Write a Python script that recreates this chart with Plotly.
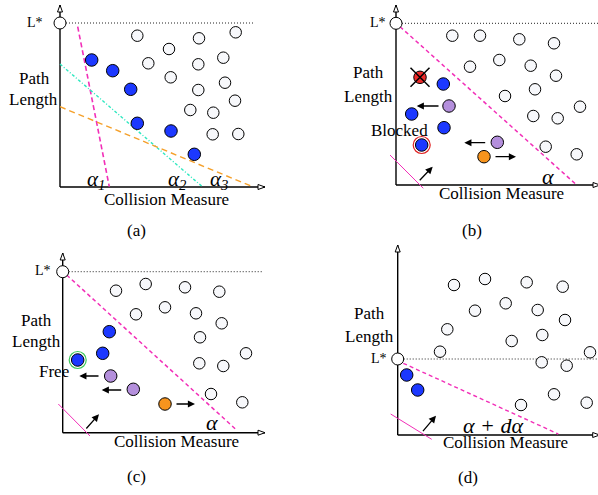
import plotly.graph_objects as go

W, H = 598, 495
FONT = "Liberation Serif"

# ---------------- data (local units: collision measure, path length) -------------
# panel (a)
a_lstar = 164
a_free_x = [77.3, 109, 139, 175.7, 88.3, 138.3, 163.3, 110.7, 138.3, 165, 130.3, 153.3, 175, 152.7, 178.3]
a_free_y = [151.3, 138, 148.7, 154.7, 123.7, 122.7, 129.3, 109.7, 97, 104.3, 77, 74.3, 86.3, 52.7, 53]
a_front_x = [31.7, 52.7, 70.7, 77.3, 111, 134.3]
a_front_y = [127, 116.3, 97.7, 63.7, 56, 32.7]
a_alpha_labels = ["α<sub>1</sub>", "α<sub>2</sub>", "α<sub>3</sub>"]

# panel (b)
b_lstar = 161.7
b_free_x = [56.3, 84, 123.3, 158, 74, 103.3, 134.7, 160, 109, 139, 184, 137.3, 161.7, 149.7, 180.7]
b_free_y = [149.3, 149.3, 145.7, 141.7, 118.3, 125, 119.3, 109.3, 89, 95.7, 78.3, 69, 66.7, 38.3, 30.7]
b_front_x = [47.3, 15.7, 48, 25.7]
b_front_y = [101, 71, 57.3, 40]
b_blocked_x = [25.7]
b_blocked_y = [40]
b_removed_x = [24]
b_removed_y = [107.7]
b_improve_x = [53, 101.3]
b_improve_y = [79, 42.7]
b_worse_x = [88]
b_worse_y = [28.3]

# panel (c)
c_lstar = 161
c_free_x = [53.3, 83, 122.3, 156.6, 73.3, 102.3, 133.3, 159, 137.3, 183.3, 136.6, 160.6, 148.3, 179.6]
c_free_y = [142, 148.7, 145.4, 141, 118.4, 125.4, 119.4, 109.4, 95.4, 79.4, 69.4, 66.7, 38.7, 30.4]
c_front_x = [46.6, 40, 15]
c_front_y = [101, 79.4, 72.7]
c_freed_x = [15]
c_freed_y = [72.7]
c_improve_x = [48, 70.6]
c_improve_y = [56.7, 43.4]
c_worse_x = [102.3]
c_worse_y = [28.7]

# panel (d)
d_lstar = 76
d_free_x = [56.3, 87.3, 129, 165, 77.3, 108, 140, 167.3, 49.6, 114, 144.6, 42.3, 192.3, 144, 169, 156.3, 189, 123.3]
d_free_y = [150, 156, 152.7, 148.3, 124.3, 131.7, 125, 115, 105.7, 94, 100, 83.3, 82.7, 72.7, 69.3, 40.7, 32.3, 30]
d_front_x = [9, 20]
d_front_y = [60, 45]

# ---------------- layout of panels (pixel boxes and origins) -----------------
panels = {
    "a": dict(box=(0, 299, 0, 240), origin=(60, 187), ytop=182, xend=205, dotend=193),
    "b": dict(box=(299, 598, 0, 240), origin=(396, 185), ytop=180, xend=204, dotend=203),
    "c": dict(box=(0, 299, 240, 495), origin=(62.7, 432.7), ytop=179.7, xend=202.3, dotend=200.3),
    "d": dict(box=(299, 598, 240, 495), origin=(397.7, 435), ytop=190, xend=202, dotend=201),
}

fig = go.Figure()
layout = dict(width=W, height=H, margin=dict(l=0, r=0, t=0, b=0), autosize=False,
              paper_bgcolor="white", plot_bgcolor="white", showlegend=False)
refs = {}
for i, (k, p) in enumerate(panels.items()):
    x0, x1, y0, y1 = p["box"]
    ox, oy = p["origin"]
    n = "" if i == 0 else str(i + 1)
    xa, ya = "xaxis" + n, "yaxis" + n
    layout[xa] = dict(domain=[x0 / W, x1 / W], range=[x0 - ox, x1 - ox], visible=False,
                      anchor="y" + n, fixedrange=True)
    layout[ya] = dict(domain=[1 - y1 / H, 1 - y0 / H], range=[oy - y1, oy - y0], visible=False,
                      anchor="x" + n, fixedrange=True)
    refs[k] = ("x" + n, "y" + n)
fig.update_layout(**layout)

shapes, annots = [], []
BLUE = "#1c38ff"
PURPLE = "#b48fdc"
ORANGE = "#f7941d"
WHITEF = "#f7f8fb"
MAG = "#f22fb8"
MAGDASH = "4px,3px"


def pts(k, xs, ys, color, size=12, lw=1, lc="black", symbol="circle"):
    xr, yr = refs[k]
    fig.add_trace(go.Scatter(x=xs, y=ys, mode="markers", xaxis=xr, yaxis=yr, hoverinfo="skip",
                             cliponaxis=False,
                             marker=dict(color=color, size=size, symbol=symbol,
                                         line=dict(color=lc, width=lw))))


def line(k, x0, y0, x1, y1, color, width=1.5, dash="solid"):
    xr, yr = refs[k]
    shapes.append(dict(type="line", xref=xr, yref=yr, x0=x0, y0=y0, x1=x1, y1=y1,
                       line=dict(color=color, width=width, dash=dash), layer="below"))


def text(k, x, y, s, size=17, italic=False, color="black"):
    xr, yr = refs[k]
    if italic:
        s = "<i>" + s + "</i>"
    annots.append(dict(xref=xr, yref=yr, x=x, y=y, text=s, showarrow=False,
                       font=dict(family=FONT, size=size, color=color)))


def arrow(k, xt, yt, xh, yh):
    xr, yr = refs[k]
    annots.append(dict(xref=xr, yref=yr, axref=xr, ayref=yr, x=xh, y=yh, ax=xt, ay=yt,
                       text="", showarrow=True, arrowhead=2, arrowsize=1.1, arrowwidth=1.3,
                       arrowcolor="black", standoff=0, startstandoff=0))


def axes(k, lstar):
    p = panels[k]
    xr, yr = refs[k]
    T, E = p["ytop"], p["xend"]
    line(k, 0, 0, 0, T, "black", 1.4)
    line(k, 0, 0, E, 0, "black", 1.4)
    shapes.append(dict(type="path", xref=xr, yref=yr,
                       path=f"M -2.5 {T-7} L 0 {T} L 2.5 {T-7} Z",
                       fillcolor="white", line=dict(color="black", width=1)))
    shapes.append(dict(type="path", xref=xr, yref=yr,
                       path=f"M {E-7} 2.5 L {E} 0 L {E-7} -2.5 Z",
                       fillcolor="white", line=dict(color="black", width=1)))
    line(k, 0, lstar, p["dotend"], lstar, "#222222", 1, "1px,2px")


# ---- panel a
axes("a", a_lstar)
line("a", 17.7, 160.3, 49.3, 0.3, MAG, 1.6, "5px,3px")
line("a", 0, 123, 142.7, 0, "#2ee8c0", 1.4, "3px,2px,1px,2px")
line("a", 0, 80.3, 193.3, 0, "#f5a02a", 1.4, "6px,4px")
pts("a", [0], [a_lstar], "white")
pts("a", a_free_x, a_free_y, WHITEF, 11.5)
pts("a", a_front_x, a_front_y, BLUE, 12.5)
for (x, s) in zip([36, 117.5, 159], a_alpha_labels):
    text("a", x, 7, s, 21, italic=True)
text("a", -25, 165, "L*", 14)
text("a", -26, 109, "Path", 17)
text("a", -27, 88, "Length", 17)
text("a", 106.7, -12, "Collision Measure", 17)
text("a", 76.7, -43, "(a)", 17)

# ---- panel b
axes("b", b_lstar)
line("b", 4, 158.3, 180.7, 0, MAG, 1.5, MAGDASH)
line("b", -6, 30, 27.3, -3.3, MAG, 1)
pts("b", [0], [b_lstar], "white")
pts("b", b_free_x, b_free_y, WHITEF, 11.5)
pts("b", b_blocked_x, b_blocked_y, "white", 17, 1.2, "#e02020")
pts("b", b_front_x, b_front_y, BLUE, 12.5)
pts("b", b_removed_x, b_removed_y, "#ee2a2a", 12.5)
pts("b", b_removed_x, b_removed_y, "black", 19, 1.5, "black", "x-thin")
pts("b", b_improve_x, b_improve_y, PURPLE, 12.5)
pts("b", b_worse_x, b_worse_y, ORANGE, 12.5)
arrow("b", 44, 79, 20.7, 79)
arrow("b", 90.7, 42.3, 68.3, 42.3)
arrow("b", 98, 28.3, 120, 28.3)
arrow("b", 22.3, 3.3, 36.7, 18.3)
text("b", -18, 162.5, "L*", 14)
text("b", -27.7, 112.3, "Path", 17)
text("b", -27.7, 88.3, "Length", 17)
text("b", 3, 55, "Blocked", 17)
text("b", 152.3, 9, "α", 22, italic=True)
text("b", 105, -8.3, "Collision Measure", 17)
text("b", 75.7, -45, "(b)", 17)

# ---- panel c
axes("c", c_lstar)
line("c", 4, 157.7, 174.6, 2, MAG, 1.5, MAGDASH)
line("c", -4.4, 28.7, 27.3, -3.3, MAG, 1)
pts("c", [0], [c_lstar], "white")
pts("c", c_free_x, c_free_y, WHITEF, 11.5)
pts("c", c_freed_x, c_freed_y, "white", 17, 1.2, "#3cc85a")
pts("c", c_front_x, c_front_y, BLUE, 12.5)
pts("c", c_improve_x, c_improve_y, PURPLE, 12.5)
pts("c", c_worse_x, c_worse_y, ORANGE, 12.5)
arrow("c", 37.3, 56.7, 16.6, 56.7)
arrow("c", 60, 42.7, 39, 42.7)
arrow("c", 112.3, 28.7, 132.3, 28.7)
arrow("c", 22.3, 2.7, 36.3, 18.4)
text("c", -19.7, 162, "L*", 14)
text("c", -26.7, 112.7, "Path", 17)
text("c", -26.7, 91, "Length", 17)
text("c", -8.4, 61.7, "Free", 17)
text("c", 149, 10, "α", 22, italic=True)
text("c", 114, -9, "Collision Measure", 17)
text("c", 74, -44, "(c)", 17)

# ---- panel d
axes("d", d_lstar)
line("d", 5.6, 71.7, 160.6, 1, MAG, 1.4, MAGDASH)
line("d", -7, 21, 34, -4.3, MAG, 1)
pts("d", [0], [d_lstar], "white")
pts("d", d_free_x, d_free_y, WHITEF, 11.5)
pts("d", d_front_x, d_front_y, BLUE, 12.5)
arrow("d", 24, 2.3, 38.3, 19.3)
text("d", -18.7, 77, "L*", 14)
text("d", -28.4, 121.7, "Path", 17)
text("d", -28.4, 98.3, "Length", 17)
text("d", 95.6, 10, "α + dα", 22, italic=True)
text("d", 107.3, -7.7, "Collision Measure", 17)
text("d", 70.6, -42.3, "(d)", 17)

fig.update_layout(shapes=shapes, annotations=annots)
fig.write_html("out.html", config={"displayModeBar": False},
               post_script="document.body.style.margin='0';document.body.style.padding='0';"
                           "document.body.style.overflow='hidden';")
